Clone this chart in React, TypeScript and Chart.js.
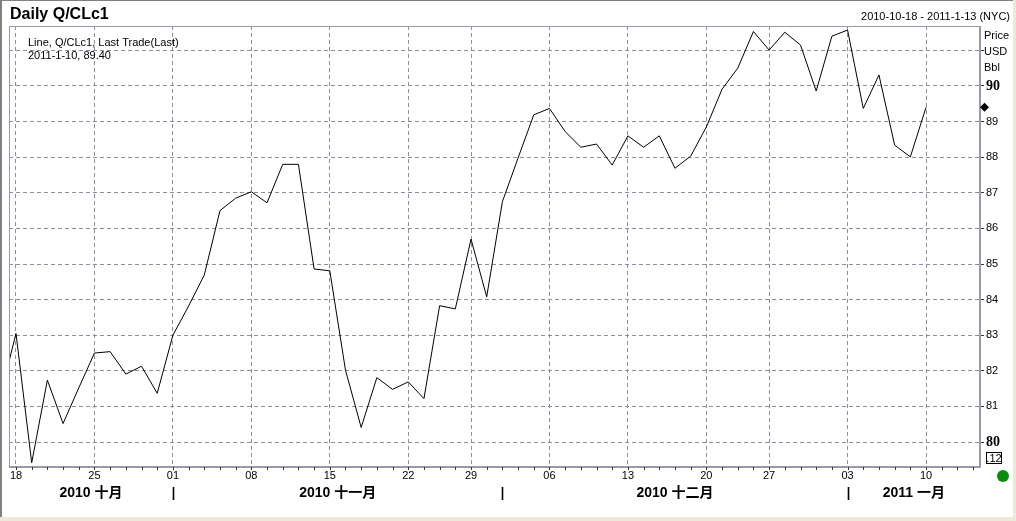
import React, { useEffect, useRef } from "react";
import { Chart, registerables } from "chart.js";

Chart.register(...registerables);

// Trading days (MM-DD), Oct 15 2010 .. Jan 13 2011
const tradingDays = [
  "10-15",
  "10-18", "10-19", "10-20", "10-21", "10-22",
  "10-25", "10-26", "10-27", "10-28", "10-29",
  "11-01", "11-02", "11-03", "11-04", "11-05",
  "11-08", "11-09", "11-10", "11-11", "11-12",
  "11-15", "11-16", "11-17", "11-18", "11-19",
  "11-22", "11-23", "11-24", "11-26",
  "11-29", "11-30", "12-01", "12-02", "12-03",
  "12-06", "12-07", "12-08", "12-09", "12-10",
  "12-13", "12-14", "12-15", "12-16", "12-17",
  "12-20", "12-21", "12-22", "12-23",
  "12-27", "12-28", "12-29", "12-30", "12-31",
  "01-03", "01-04", "01-05", "01-06", "01-07",
  "01-10", "01-11", "01-12", "01-13",
];

// Last trade prices (USD/Bbl), through Jan 10
const prices = [
  81.28,
  83.05, 79.42, 81.74, 80.52, 81.52,
  82.50, 82.54, 81.91, 82.13, 81.37,
  83.00, 83.82, 84.69, 86.50, 86.85,
  87.03, 86.72, 87.80, 87.80, 84.86,
  84.81, 82.02, 80.41, 81.81, 81.48,
  81.69, 81.22, 83.83, 83.74,
  85.70, 84.08, 86.75, 87.98, 89.19,
  89.37, 88.72, 88.28, 88.37, 87.78,
  88.60, 88.28, 88.60, 87.69, 88.03,
  88.85, 89.91, 90.50, 91.53,
  91.01, 91.51, 91.15, 89.86, 91.40,
  91.57, 89.37, 90.31, 88.34, 88.01,
  89.40,
];

const weekTickDays = ["10-18", "10-25", "11-01", "11-08", "11-15", "11-22", "11-29", "12-06", "12-13", "12-20", "12-27", "01-03", "01-10"];
const weekTickLabels = ["18", "25", "01", "08", "15", "22", "29", "06", "13", "20", "27", "03", "10"];

const monthLabels = ["2010 十月", "2010 十一月", "2010 十二月", "2011 一月"];
const monthStartDays = ["11-01", "12-01", "01-03"];

const priceTicks = [80, 81, 82, 83, 84, 85, 86, 87, 88, 89, 90, 91];
const yMin = 79.3;
const yMax = 91.685;

const titleText = "Daily Q/CLc1";
const rangeText = "2010-10-18 - 2011-1-13 (NYC)";
const legendLine1 = "Line, Q/CLc1, Last Trade(Last)";
const legendLine2 = "2011-1-10, 89.40";
const unitLabels = ["Price", "USD", "Bbl"];
const lastValue = 89.40;
const boxText = ".12";

const GRID = "#8e8c9e";
const SANS = '"Liberation Sans", Arial, "Noto Sans CJK SC", sans-serif';

export default function App() {
  const ref = useRef<HTMLCanvasElement | null>(null);

  useEffect(() => {
    const canvas = ref.current;
    if (!canvas) return;

    const points = prices.map((p, i) => ({ x: i, y: p }));
    const weekIdx = weekTickDays.map((d) => tradingDays.indexOf(d));
    const firstIdx = tradingDays.indexOf("10-18");
    const lastIdx = tradingDays.length - 1;

    const decor = {
      id: "decor",
      beforeDraw(chart: any) {
        const c = chart.ctx;
        c.save();
        c.fillStyle = "#ffffff";
        c.fillRect(0, 0, 1016, 521);
        c.fillStyle = "#ece9d8";
        c.fillRect(0, 517, 1016, 4);
        c.fillRect(1013, 0, 3, 521);
        c.fillStyle = "#808080";
        c.fillRect(0, 0, 1013, 1);
        c.fillRect(0, 0, 2, 517);
        c.restore();
      },
      afterDraw(chart: any) {
        const c = chart.ctx;
        const a = chart.chartArea;
        const xs = chart.scales.x;
        const ys = chart.scales.y;
        c.save();
        // frame
        c.strokeStyle = "#9a98aa";
        c.lineWidth = 1;
        c.strokeRect(a.left + 0.5, a.top + 0.5, a.right - a.left - 1, a.bottom - a.top - 1);

        // title
        c.fillStyle = "#000";
        c.font = "bold 16px " + SANS;
        c.textBaseline = "alphabetic";
        c.textAlign = "left";
        c.fillText(titleText, 10, 19);

        // range
        c.font = "11px " + SANS;
        c.textAlign = "right";
        c.textBaseline = "middle";
        c.fillText(rangeText, 1010, 17);

        // legend
        c.textAlign = "left";
        c.fillText(legendLine1, 28, 43);
        c.fillText(legendLine2, 28, 56);

        // unit labels
        c.fillText(unitLabels[0], 984, 36);
        c.fillText(unitLabels[1], 984, 52);
        c.fillText(unitLabels[2], 984, 68);

        // last value diamond
        const dy = ys.getPixelForValue(lastValue);
        c.beginPath();
        c.moveTo(984.5, dy - 4.5);
        c.lineTo(989, dy);
        c.lineTo(984.5, dy + 4.5);
        c.lineTo(980, dy);
        c.closePath();
        c.fill();

        // .12 box
        c.strokeStyle = "#000";
        c.strokeRect(986.5, 452.5, 15, 11);
        c.textAlign = "center";
        c.fillText(boxText, 994, 458.5);

        // green dot
        c.fillStyle = "#0b8a0b";
        c.beginPath();
        c.arc(1003, 476, 6, 0, Math.PI * 2);
        c.fill();

        // minor day ticks
        c.strokeStyle = "#333";
        for (let i = firstIdx; i <= lastIdx; i++) {
          const px = Math.round(xs.getPixelForValue(i)) + 0.5;
          c.beginPath();
          c.moveTo(px, a.bottom);
          c.lineTo(px, a.bottom + 3);
          c.stroke();
        }

        // week labels
        c.fillStyle = "#000";
        c.font = "11px " + SANS;
        c.textAlign = "center";
        c.textBaseline = "middle";
        weekIdx.forEach((idx, k) => {
          c.fillText(weekTickLabels[k], xs.getPixelForValue(idx), 476);
        });

        // month labels and separators
        const bounds = [a.left, ...monthStartDays.map((d) => xs.getPixelForValue(tradingDays.indexOf(d))), a.right];
        c.font = "bold 14px " + SANS;
        monthLabels.forEach((m, k) => {
          c.fillText(m, (bounds[k] + bounds[k + 1]) / 2, 493);
        });
        c.strokeStyle = "#000";
        c.lineWidth = 1.6;
        monthStartDays.forEach((d) => {
          const px = Math.round(xs.getPixelForValue(tradingDays.indexOf(d))) + 0.5;
          c.beginPath();
          c.moveTo(px, 487);
          c.lineTo(px, 500);
          c.stroke();
        });
        c.restore();
      },
    };

    const chart = new Chart(canvas, {
      type: "line",
      data: {
        datasets: [
          {
            data: points,
            borderColor: "#000",
            borderWidth: 1,
            pointRadius: 0,
            tension: 0,
            fill: false,
          },
        ],
      },
      options: {
        animation: false,
        responsive: false,
        devicePixelRatio: 1,
        layout: { padding: { left: 9, top: 26, right: 0, bottom: 0 } },
        plugins: { legend: { display: false }, tooltip: { enabled: false }, title: { display: false } },
        scales: {
          x: {
            type: "linear",
            min: firstIdx - 0.446,
            max: lastIdx + 0.44,
            afterBuildTicks: (s: any) => {
              s.ticks = weekIdx.map((v) => ({ value: v }));
            },
            afterFit: (s: any) => {
              s.height = 54;
            },
            ticks: { display: false },
            grid: { color: GRID, lineWidth: 1, drawTicks: false },
            border: { display: true, color: "#9a98aa", dash: [4, 3] },
          },
          y: {
            position: "right",
            min: yMin,
            max: yMax,
            afterBuildTicks: (s: any) => {
              s.ticks = priceTicks.map((v) => ({ value: v }));
            },
            afterFit: (s: any) => {
              s.width = 36;
            },
            ticks: {
              color: "#000",
              padding: 2,
              callback: (v: any) => (v === 91 ? "" : String(v)),
              font: (ctx: any) =>
                ctx.tick && ctx.tick.value % 10 === 0
                  ? { family: '"Liberation Serif", "Times New Roman", serif', size: 14, weight: "bold" }
                  : { family: SANS, size: 11, weight: "normal" },
            },
            grid: { color: GRID, lineWidth: 1, drawTicks: true, tickLength: 4, tickColor: "#333" },
            border: { display: true, color: "#9a98aa", dash: [4, 3] },
          },
        },
      },
      plugins: [decor],
    } as any);

    return () => chart.destroy();
  }, []);

  return (
    <div style={{ position: "absolute", left: 0, top: 0, width: 1016, height: 521 }}>
      <canvas ref={ref} width={1016} height={521} style={{ display: "block", width: 1016, height: 521 }} />
    </div>
  );
}
